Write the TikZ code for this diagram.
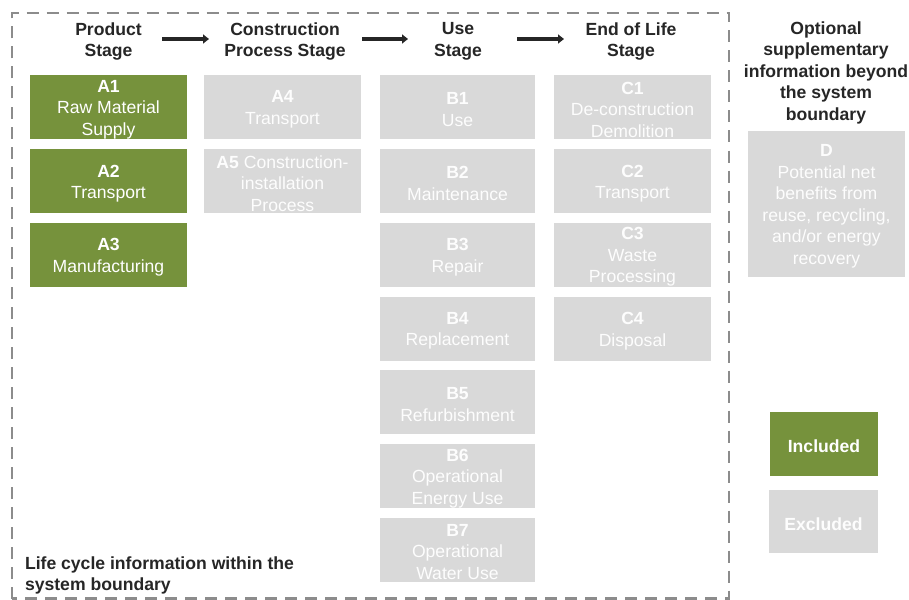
\documentclass[tikz,border=0pt]{standalone}
\usepackage{fontspec}
\setmainfont{Liberation Sans}
\usetikzlibrary{arrows.meta}
\definecolor{lcgreen}{HTML}{76923C}
\definecolor{lcgray}{HTML}{D9D9D9}
\definecolor{lctext}{HTML}{262626}
\definecolor{lcdash}{HTML}{8C8C8C}
\begin{document}
\begin{tikzpicture}[x=1pt,y=-1pt,
  every node/.style={inner sep=0pt, outer sep=0pt},
  boxfont/.style={font=\fontsize{17.6}{21.5}\selectfont},
  inct/.style={boxfont, text=white, align=center, yshift=-2.5pt},
  exct/.style={boxfont, text=white!95!lcgray, align=center, yshift=-2.5pt},
  inc/.style={fill=lcgreen, minimum width=157pt, minimum height=64pt, label={[inct]center:{#1}}},
  exc/.style={fill=lcgray, minimum width=157pt, minimum height=64pt, label={[exct]center:{#1}}},
  head/.style={font=\bfseries\fontsize{17.6}{21.5}\selectfont, text=lctext, align=center},
  flow/.style={line width=3.5pt, lctext, -{Triangle[length=6pt,width=9pt]}},
  boundary/.style={draw=lcdash, line width=2.5pt, dash pattern=on 12pt off 8pt}
]
\useasboundingbox (0,0) rectangle (909,599);
% system boundary
\draw[boundary] (12,598.5) -- (12,13) -- (729,13) -- (729,598.5) -- cycle;

% headers
\node[head] (h1) at (108.5,41.5) {Product\\Stage};
\node[head] (h2) at (285,41.5) {Construction\\Process Stage};
\node[head] (h3) at (458,41.5) {Use\\Stage};
\node[head] (h4) at (631,41.5) {End of Life\\Stage};
\node[head] (h5) at (826,72.5) {Optional\\supplementary\\information beyond\\the system\\boundary};

\coordinate (a1s) at (162,39); \coordinate (a1e) at (209,39);
\coordinate (a2s) at (362,39); \coordinate (a2e) at (408,39);
\coordinate (a3s) at (517,39); \coordinate (a3e) at (564,39);
\draw[flow] (a1s) -- (a1e);
\draw[flow] (a2s) -- (a2e);
\draw[flow] (a3s) -- (a3e);

% Product stage
\node[inc={\textbf{A1}\\Raw Material\\Supply}] (A1) at (108.5,107) {};
\node[inc={\textbf{A2}\\Transport}] (A2) at (108.5,181) {};
\node[inc={\textbf{A3}\\Manufacturing}] (A3) at (108.5,254.5) {};

% Construction
\node[exc={\textbf{A4}\\Transport}] (A4) at (282.5,107) {};
\node[exc={\textbf{A5} Construction-\\installation\\Process}] (A5) at (282.5,181) {};

% Use
\node[exc={\textbf{B1}\\Use}, minimum width=155pt] (B1) at (457.5,107) {};
\node[exc={\textbf{B2}\\Maintenance}, minimum width=155pt] (B2) at (457.5,181) {};
\node[exc={\textbf{B3}\\Repair}, minimum width=155pt] (B3) at (457.5,254.5) {};
\node[exc={\textbf{B4}\\Replacement}, minimum width=155pt] (B4) at (457.5,328.5) {};
\node[exc={\textbf{B5}\\Refurbishment}, minimum width=155pt] (B5) at (457.5,402) {};
\node[exc={\textbf{B6}\\Operational\\Energy Use}, minimum width=155pt] (B6) at (457.5,476) {};
\node[exc={\textbf{B7}\\Operational\\Water Use}, minimum width=155pt] (B7) at (457.5,549.5) {};

% End of life
\node[exc={\textbf{C1}\\De-construction\\Demolition}] (C1) at (632.5,107) {};
\node[exc={\textbf{C2}\\Transport}] (C2) at (632.5,181) {};
\node[exc={\textbf{C3}\\Waste\\Processing}] (C3) at (632.5,254.5) {};
\node[exc={\textbf{C4}\\Disposal}] (C4) at (632.5,328.5) {};

% D
\node[exc={\textbf{D}\\Potential net\\benefits from\\reuse, recycling,\\and/or energy\\recovery}, minimum height=146pt] (D) at (826.5,204) {};

% legend
\node[inc={\textbf{Included}}, minimum width=108pt] (inc) at (824,444) {};
\node[exc={\textbf{Excluded}}, minimum width=109pt, minimum height=63pt] (exc) at (823.5,521.5) {};

% boundary label
\node[head, align=left, anchor=west] (lbl) at (25,575.5) {Life cycle information within the\\system boundary};
\end{tikzpicture}
\end{document}
